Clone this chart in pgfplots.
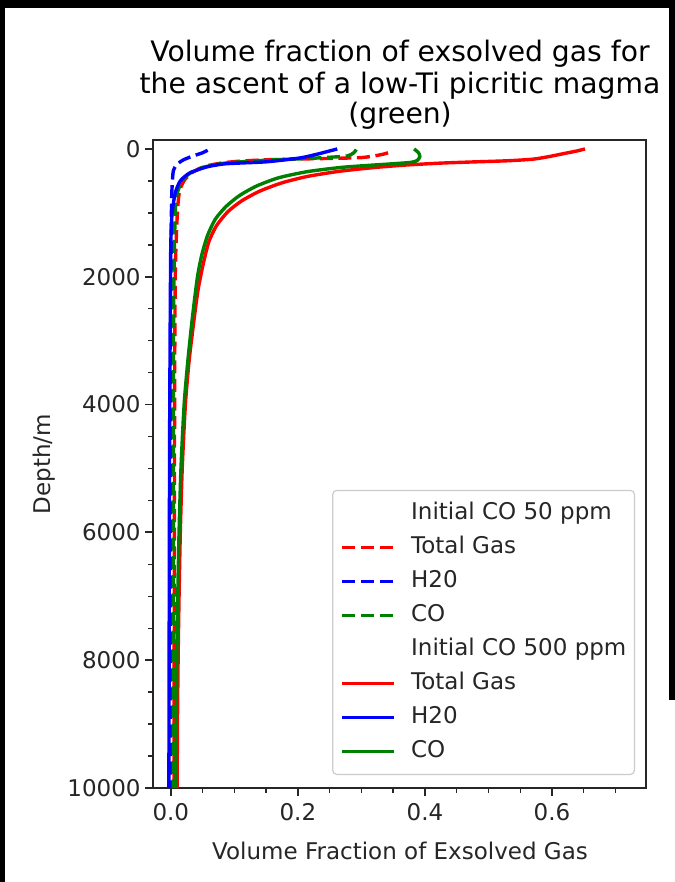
\documentclass[border=0pt]{standalone}
\usepackage{pgfplots}
\pgfplotsset{compat=1.18}
\usepackage{fontspec}
\setmainfont{DejaVu Sans}
\definecolor{mplgreen}{rgb}{0,0.5,0}
\definecolor{spinecol}{HTML}{262626}
\definecolor{legframe}{HTML}{CCCCCC}
\newcommand{\tickfont}{\fontsize{11.5bp}{13.8bp}\selectfont}
\newcommand{\titlefont}{\fontsize{14.1bp}{15bp}\selectfont}
\begin{document}
\begin{tikzpicture}
\fill[white] (0bp,0bp) rectangle (337.5bp,441bp);
\fill[black] (0bp,437bp) rectangle (337.5bp,441bp);
\fill[black] (0bp,0bp) rectangle (2.5bp,441bp);
\fill[black] (334.5bp,91bp) rectangle (337.5bp,441bp);
\useasboundingbox (0bp,0bp) rectangle (337.5bp,441bp);
\begin{axis}[
  at={(76.5bp,47bp)}, anchor=south west,
  scale only axis, width=246.5bp, height=324bp,
  xmin=-0.028, xmax=0.748, ymin=-140, ymax=10000, y dir=reverse,
  scaled y ticks=false, scaled x ticks=false,
  axis line style={spinecol, line width=0.9bp},
  tick pos=left, tick align=outside,
  major tick length=4bp, minor tick length=2.3bp,
  every tick/.style={spinecol},
  major tick style={line width=0.9bp},
  minor tick style={line width=0.7bp},
  xtick={0,0.2,0.4,0.6},
  minor xtick={0.05,0.1,0.15,0.25,0.3,0.35,0.45,0.5,0.55,0.65,0.7},
  ytick={0,2000,4000,6000,8000,10000},
  minor ytick={500,1000,1500,2500,3000,3500,4500,5000,5500,6500,7000,7500,8500,9000,9500},
  xticklabels={0.0,0.2,0.4,0.6},
  yticklabels={0,2000,4000,6000,8000,10000},
  ticklabel style={font=\tickfont, text=spinecol},
  xticklabel style={anchor=north, inner sep=0pt, yshift=-3.5bp},
  yticklabel style={anchor=east, inner sep=0pt, xshift=-2bp},
  xlabel={Volume Fraction of Exsolved Gas},
  ylabel={Depth/m},
  label style={font=\tickfont, text=spinecol},
  xlabel style={at={(axis description cs:0.501,-0.1096)}, anchor=base, inner sep=0pt},
  ylabel style={at={(axis description cs:-0.2089,0.5)}, anchor=base, inner sep=0pt, rotate=0},
  legend cell align=left,
  legend style={at={(1,0)}, anchor=south east, xshift=-5.5bp, yshift=6.5bp,
    draw=legframe, line width=0.6bp, rounded corners=2bp, fill=white,
    font=\tickfont, text=spinecol,
    inner xsep=4bp, inner ysep=3bp,
    nodes={inner sep=0pt, text height=11.5bp, text depth=5.5bp},
    /tikz/every odd column/.append style={column sep=7.5bp}},
  legend image code/.code={\draw[#1] (0bp,0bp) -- (26bp,0bp);},
  clip=false,
]
\addlegendimage{empty legend}
\addlegendentry{Initial CO 50 ppm}
% 50 ppm, dashed
\addplot[red, line width=1.7bp, dash pattern=on 6.5bp off 2.8bp, smooth, tension=0.4] coordinates {
(0.342,60) (0.335,80) (0.320,110) (0.300,135) (0.267,145) (0.230,152) (0.188,160)
(0.150,170) (0.110,190) (0.080,220) (0.055,270) (0.035,360) (0.022,480) (0.014,650)
(0.011,900) (0.009,1300) (0.007,2000) (0.006,4000) (0.005,10000)};
\addlegendentry{Total Gas}
\addplot[blue, line width=1.7bp, dash pattern=on 6.5bp off 2.8bp, smooth, tension=0.4] coordinates {
(0.058,20) (0.050,60) (0.035,110) (0.020,170) (0.010,240) (0.004,340) (0.002,600)
(0.001,1000) (0.0,3000) (-0.001,10000)};
\addlegendentry{H20}
\addplot[mplgreen, line width=1.7bp, dash pattern=on 6.5bp off 2.8bp, smooth, tension=0.4] coordinates {
(0.292,10) (0.288,60) (0.278,110) (0.250,130) (0.215,150) (0.161,170) (0.120,195)
(0.083,225) (0.050,290) (0.030,380) (0.018,500) (0.010,700) (0.007,1000) (0.005,2000)
(0.004,4000) (0.004,10000)};
\addlegendentry{CO}
\addlegendimage{empty legend}
\addlegendentry{Initial CO 500 ppm}
% 500 ppm, solid
\addplot[red, line width=1.7bp, smooth, tension=0.4] coordinates {
(0.652,0) (0.640,30) (0.620,70) (0.595,120) (0.570,160) (0.530,185) (0.470,205)
(0.424,222) (0.370,252) (0.319,292) (0.265,350) (0.215,430) (0.175,530) (0.140,660)
(0.112,810) (0.090,980) (0.072,1200) (0.060,1450) (0.051,1800) (0.043,2200) (0.037,2640) (0.029,3300)
(0.023,4000) (0.018,5000) (0.015,6000) (0.013,7000) (0.0115,8000) (0.0105,9000) (0.010,10000)};
\addlegendentry{Total Gas}
\addplot[blue, line width=1.7bp, smooth, tension=0.4] coordinates {
(0.262,0) (0.235,70) (0.204,140) (0.152,200) (0.110,220) (0.083,235) (0.057,280)
(0.030,375) (0.015,500) (0.007,690) (0.002,1015) (0.0,1500) (-0.001,2840)
(-0.002,5000) (-0.003,10000)};
\addlegendentry{H20}
\addplot[mplgreen, line width=1.7bp, smooth, tension=0.4] coordinates {
(0.383,0) (0.390,60) (0.392,120) (0.388,180) (0.378,210) (0.345,235) (0.310,258)
(0.267,290) (0.215,355) (0.170,450) (0.135,580) (0.108,730) (0.087,900) (0.070,1100)
(0.058,1350) (0.049,1650) (0.042,2000) (0.034,2640) (0.027,3300) (0.021,4000) (0.016,5000) (0.013,6000)
(0.011,7000) (0.0095,8000) (0.0088,9000) (0.008,10000)};
\addlegendentry{CO}
\node[font=\titlefont, text=black, anchor=base] at (axis description cs:0.501,1.1204) {Volume fraction of exsolved gas for};
\node[font=\titlefont, text=black, anchor=base] at (axis description cs:0.501,1.0725) {the ascent of a low-Ti picritic magma};
\node[font=\titlefont, text=black, anchor=base] at (axis description cs:0.501,1.0262) {(green)};
\end{axis}
\end{tikzpicture}
\end{document}
